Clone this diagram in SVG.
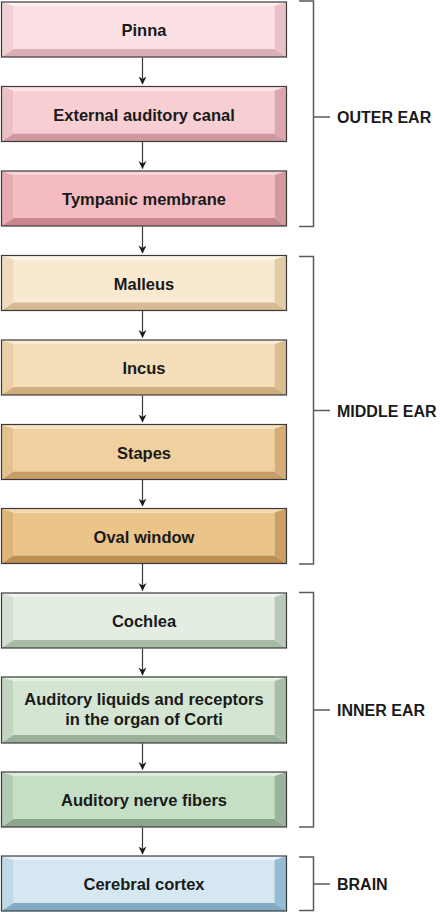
<svg xmlns="http://www.w3.org/2000/svg" width="440" height="912" viewBox="0 0 440 912">
<defs>
<style>
.lbl{font-family:"Liberation Sans",Arial,Helvetica,sans-serif;font-weight:bold;font-size:16.5px;fill:#1a1a1a;text-anchor:middle}
.grp{font-family:"Liberation Sans",Arial,Helvetica,sans-serif;font-weight:bold;font-size:16px;fill:#1a1a1a}
.edge{fill:none;stroke:#3a3a3a;stroke-width:1.2}
.brk{fill:none;stroke:#5a5a5a;stroke-width:1.5}
.ol{fill:none;stroke:#3a3a3a;stroke-width:1.2}
.f{fill:var(--f)}.t{fill:var(--t)}.l{fill:var(--l)}.r{fill:var(--r)}.b{fill:var(--b)}
.p1{--f:#fbe1e4;--t:#fdeff1;--l:#f1d0d4;--r:#e8c2c6;--b:#dcafb4}
.p2{--f:#f7cfd3;--t:#fbe3e6;--l:#ecbfc3;--r:#dca7ac;--b:#d0999f}
.p3{--f:#f4bcc1;--t:#f9d3d7;--l:#e8abb0;--r:#d4999e;--b:#c8878e}
.m1{--f:#f8e9d0;--t:#fdf6e6;--l:#efdcbe;--r:#e3cba6;--b:#d7ba92}
.m2{--f:#f4ddb9;--t:#faecd3;--l:#ead0a8;--r:#dcbd8f;--b:#cfad7d}
.m3{--f:#f0d09f;--t:#f8e4c1;--l:#e4c290;--r:#d4ad76;--b:#c69d66}
.m4{--f:#eac489;--t:#f4d9ac;--l:#ddb478;--r:#cc9f62;--b:#bb8e52}
.g1{--f:#e3ede2;--t:#f0f6ef;--l:#d2dfd1;--r:#b8c9b7;--b:#a8bba7}
.g2{--f:#d4e5d3;--t:#e7f1e6;--l:#c2d5c1;--r:#a9bea8;--b:#9ab09a}
.g3{--f:#c5dfc5;--t:#dcecdb;--l:#b2ccb2;--r:#9bb39b;--b:#8ca58c}
.b1{--f:#d5e8f2;--t:#e9f4fa;--l:#c0d9e6;--r:#94bcd3;--b:#82aac2}
</style>
<marker id="ah" viewBox="0 0 8 10" refX="7.5" refY="5" markerWidth="8" markerHeight="10" markerUnits="userSpaceOnUse" orient="auto">
<path d="M0,1 L8,5 L0,9 L2.5,5 Z" fill="#1a1a1a"/>
</marker>
<g id="box55">
<rect class="f" x="12" y="4" width="261" height="43"/>
<polygon class="t" points="0,0 285,0 273,4 12,4"/>
<polygon class="l" points="0,0 12,4 12,47 0,55"/>
<polygon class="r" points="285,0 285,55 273,47 273,4"/>
<polygon class="b" points="0,55 12,47 273,47 285,55"/>
<rect class="ol" x="0" y="0" width="285" height="55"/>
</g>
</defs>

<g id="connectors">
<line class="edge" x1="142.5" y1="57.5" x2="142.5" y2="84" marker-end="url(#ah)"/>
<line class="edge" x1="142.5" y1="142" x2="142.5" y2="168.5" marker-end="url(#ah)"/>
<line class="edge" x1="142.5" y1="226.5" x2="142.5" y2="253" marker-end="url(#ah)"/>
<line class="edge" x1="142.5" y1="311" x2="142.5" y2="337.5" marker-end="url(#ah)"/>
<line class="edge" x1="142.5" y1="395.5" x2="142.5" y2="422" marker-end="url(#ah)"/>
<line class="edge" x1="142.5" y1="480" x2="142.5" y2="506" marker-end="url(#ah)"/>
<line class="edge" x1="142.5" y1="564" x2="142.5" y2="590.5" marker-end="url(#ah)"/>
<line class="edge" x1="142.5" y1="648.5" x2="142.5" y2="675" marker-end="url(#ah)"/>
<line class="edge" x1="142.5" y1="743.5" x2="142.5" y2="769.5" marker-end="url(#ah)"/>
<line class="edge" x1="142.5" y1="827.5" x2="142.5" y2="854" marker-end="url(#ah)"/>
</g>

<g id="n-pinna" class="p1" transform="translate(1.5,2)">
<use href="#box55"/>
<text class="lbl" x="142.5" y="34">Pinna</text>
</g>
<g id="n-canal" class="p2" transform="translate(1.5,86.5)">
<use href="#box55"/>
<text class="lbl" x="142.5" y="34">External auditory canal</text>
</g>
<g id="n-tympanic" class="p3" transform="translate(1.5,171)">
<use href="#box55"/>
<text class="lbl" x="142.5" y="34">Tympanic membrane</text>
</g>
<g id="n-malleus" class="m1" transform="translate(1.5,255.5)">
<use href="#box55"/>
<text class="lbl" x="142.5" y="34">Malleus</text>
</g>
<g id="n-incus" class="m2" transform="translate(1.5,340)">
<use href="#box55"/>
<text class="lbl" x="142.5" y="34">Incus</text>
</g>
<g id="n-stapes" class="m3" transform="translate(1.5,424.5)">
<use href="#box55"/>
<text class="lbl" x="142.5" y="34">Stapes</text>
</g>
<g id="n-oval" class="m4" transform="translate(1.5,508.5)">
<use href="#box55"/>
<text class="lbl" x="142.5" y="34">Oval window</text>
</g>
<g id="n-cochlea" class="g1" transform="translate(1.5,593)">
<use href="#box55"/>
<text class="lbl" x="142.5" y="34">Cochlea</text>
</g>
<g id="n-liquids" class="g2" transform="translate(1.5,677)">
<rect class="f" x="12" y="4" width="261" height="54"/>
<polygon class="t" points="0,0 285,0 273,4 12,4"/>
<polygon class="l" points="0,0 12,4 12,58 0,66"/>
<polygon class="r" points="285,0 285,66 273,58 273,4"/>
<polygon class="b" points="0,66 12,58 273,58 285,66"/>
<rect class="ol" x="0" y="0" width="285" height="66"/>
<text class="lbl" x="142.5" y="28">Auditory liquids and receptors</text>
<text class="lbl" x="142.5" y="47.5">in the organ of Corti</text>
</g>
<g id="n-nerve" class="g3" transform="translate(1.5,772)">
<use href="#box55"/>
<text class="lbl" x="142.5" y="34">Auditory nerve fibers</text>
</g>
<g id="n-cortex" class="b1" transform="translate(1.5,856)">
<use href="#box55"/>
<text class="lbl" x="142.5" y="34">Cerebral cortex</text>
</g>

<g id="g-outer">
<path class="brk" d="M299,1 H313.5 V226.5 H299 M313.5,117 H330"/>
<text class="grp" x="337" y="123">OUTER EAR</text>
</g>
<g id="g-middle">
<path class="brk" d="M299,256.5 H313.5 V564 H299 M313.5,410.5 H330"/>
<text class="grp" x="337" y="416.5">MIDDLE EAR</text>
</g>
<g id="g-inner">
<path class="brk" d="M299,592.5 H313.5 V827 H299 M313.5,710 H330"/>
<text class="grp" x="337" y="716">INNER EAR</text>
</g>
<g id="g-brain">
<path class="brk" d="M299,857 H313.5 V910.5 H299 M313.5,884 H330"/>
<text class="grp" x="337" y="890">BRAIN</text>
</g>
</svg>
